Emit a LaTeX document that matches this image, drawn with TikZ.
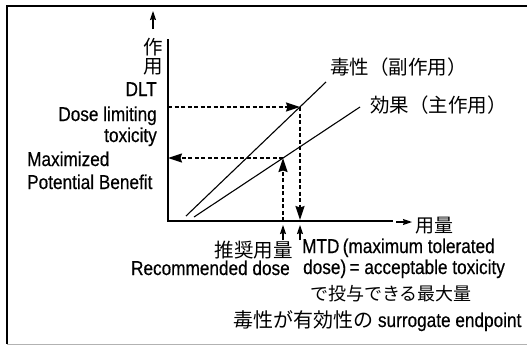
\documentclass[tikz,border=0pt]{standalone}
\usepackage{fontspec}
\setmainfont[FakeStretch=0.86,FakeBold=0.4]{Liberation Sans}
\newfontfamily\jp{Noto Sans CJK JP}
\usetikzlibrary{arrows.meta}
\tikzset{
  lat/.style={inner sep=0pt, font=\fontsize{20}{22}\selectfont},
  jpt/.style={inner sep=0pt, font=\jp\fontsize{19.5}{22}\selectfont},
  axis/.style={line width=1.2pt},
  curve/.style={line width=1.1pt},
  guide/.style={line width=1.4pt, dash pattern=on 4pt off 2.5pt},
  tip/.style={-{Stealth[length=14pt,width=9pt,inset=1.5pt]}},
  small/.style={line width=1.1pt,-{Stealth[length=9pt,width=6pt,inset=1pt]}}
}
\begin{document}
\begin{tikzpicture}[x=1pt,y=-1pt]
\useasboundingbox (0,0) rectangle (527,346);
% frame
\draw[line width=1.1pt] (527,6) -- (7,6) -- (7,344);
\draw[line width=0.6pt, gray!60] (7,344) -- (527,344);
% axes
\coordinate (O) at (168,221);
\coordinate (Ytop) at (168,39);
\coordinate (Xend) at (393,221);
\draw[axis] (Ytop) -- (O) -- (Xend);
\coordinate (ya0) at (153,29);
\coordinate (ya1) at (153,11);
\draw[small] (ya0) -- (ya1);
\node[jpt] (ylab1) at (153,47) {作};
\node[jpt] (ylab2) at (153,67) {用};
\coordinate (xa0) at (396,222);
\coordinate (xa1) at (412,222);
\draw[small] (xa0) -- (xa1);
\node[jpt, anchor=west, font=\jp\fontsize{19}{22}\selectfont] (xlab) at (415,226) {用量};
% lines
\coordinate (t0) at (186,216);
\coordinate (t1) at (326,82);
\coordinate (e0) at (194,217);
\coordinate (e1) at (360,107);
\draw[curve] (t0) -- (t1);
\draw[curve] (e0) -- (e1);
\node[jpt, anchor=west] (toxlab) at (330,67) {毒性（副作用）};
\node[jpt, anchor=west] (efflab) at (370,105) {効果（主作用）};
% guides
\coordinate (P) at (300,107);
\coordinate (Q) at (283,158);
\coordinate (Pl) at (168,107);
\coordinate (Ql) at (168,158);
\coordinate (Pb) at (300,220);
\coordinate (Qb) at (283,221);
\draw[guide, tip] (Pl) -- (P);
\draw[guide, tip] (P) -- (Pb);
\draw[guide, tip] (Qb) -- (Q);
\draw[guide, tip] (Q) -- (Ql);
\coordinate (r0) at (283,240);
\coordinate (r1) at (283,225);
\coordinate (m0) at (300,240);
\coordinate (m1) at (300,225);
\draw[small] (r0) -- (r1);
\draw[small] (m0) -- (m1);
% left labels
\node[lat, anchor=base east] (dlt) at (157,96) {DLT};
\node[lat, anchor=base east] (dl) at (157,121) {Dose limiting};
\node[lat, anchor=base east] (tx) at (157,142) {toxicity};
\node[lat, anchor=base west] (mx) at (27,166) {Maximized};
\node[lat, anchor=base west] (pb) at (27,189) {Potential Benefit};
% bottom labels
\node[jpt, anchor=east] (rec1) at (293,250) {推奨用量};
\node[lat, anchor=base east] (rec2) at (290,275) {Recommended dose};
\node[lat, anchor=base west] (mtd1) at (302,253) {MTD\,(maximum tolerated};
\node[lat, anchor=base west] (mtd2) at (303,274) {dose)\,= acceptable toxicity};
\node[jpt, anchor=west, font=\jp\fontsize{18}{20}\selectfont] (mtd3) at (310,294) {で投与できる最大量};
\node[lat, anchor=base west] (sur) at (233,327) {{\jp 毒性が有効性の} surrogate endpoint};
\end{tikzpicture}
\end{document}
